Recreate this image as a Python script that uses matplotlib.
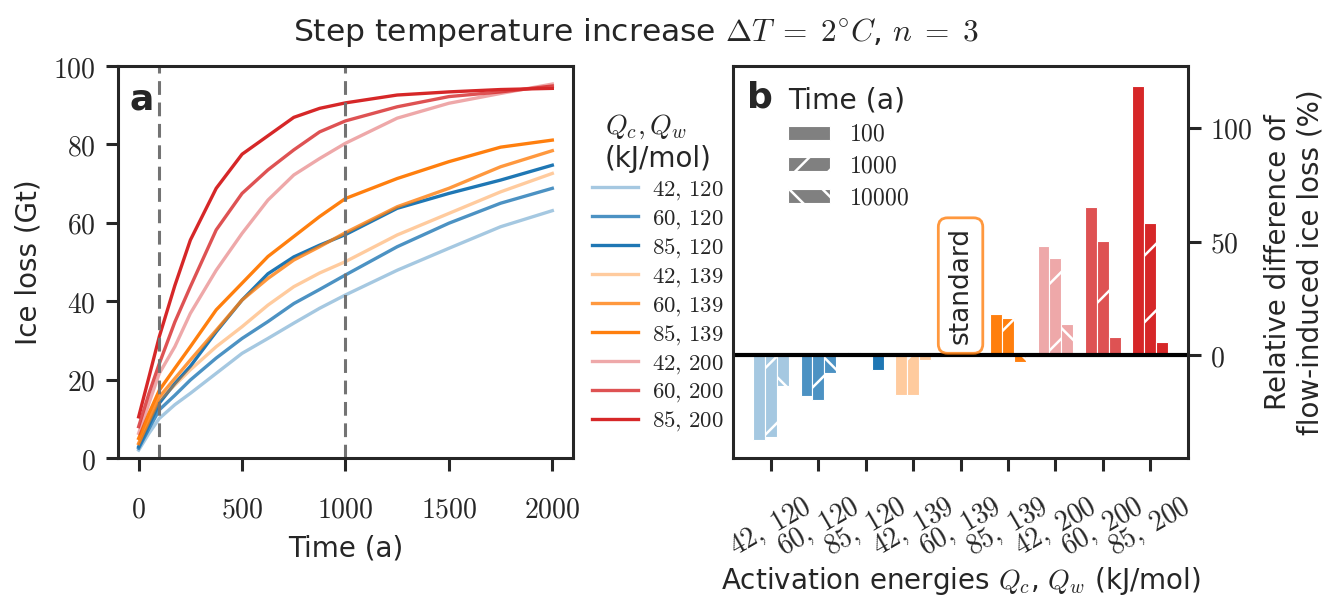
import numpy as np
import matplotlib.pyplot as plt
from matplotlib.patches import Patch
from matplotlib.ticker import FuncFormatter
from matplotlib.colors import to_rgba

plt.rcParams['mathtext.fontset'] = 'cm'
plt.rcParams['font.family'] = 'DejaVu Sans'
plt.rcParams['axes.edgecolor'] = '0.15'
plt.rcParams['axes.linewidth'] = 1.1
plt.rcParams['text.color'] = '0.15'
plt.rcParams['axes.labelcolor'] = '0.15'
plt.rcParams['xtick.color'] = '0.15'
plt.rcParams['ytick.color'] = '0.15'
plt.rcParams['hatch.linewidth'] = 0.9

# time series of ice loss (Gt), panel a
time = [0, 50, 100, 175, 250, 375, 500, 625, 750, 875, 1000, 1250, 1500, 1750, 2000]
loss_42_120 = [2.0, 6.3, 10.1, 13.6, 16.5, 21.6, 26.7, 30.5, 34.4, 38.2, 41.6, 47.9, 53.5, 59.0, 63.1]
loss_60_120 = [2.5, 7.5, 12.3, 16.0, 19.9, 25.5, 30.5, 34.8, 39.4, 43.0, 46.7, 53.9, 59.9, 65.0, 68.8]
loss_85_120 = [2.9, 8.4, 14.0, 19.0, 23.4, 32.2, 40.3, 47.0, 51.3, 54.3, 57.0, 63.7, 67.5, 70.9, 74.7]
loss_42_139 = [3.7, 9.2, 14.8, 18.6, 22.5, 28.4, 33.5, 39.0, 43.7, 47.2, 50.1, 56.9, 62.4, 67.9, 72.6]
loss_60_139 = [3.7, 9.7, 15.6, 20.3, 25.0, 32.6, 40.3, 45.8, 50.5, 53.9, 57.5, 64.1, 68.8, 74.3, 78.4]
loss_85_139 = [5.0, 11.4, 17.3, 22.9, 28.4, 37.8, 44.6, 51.4, 56.5, 61.6, 66.2, 71.3, 75.6, 79.3, 81.1]
loss_42_200 = [6.3, 14.0, 21.6, 28.4, 36.9, 47.9, 57.3, 65.8, 72.2, 76.4, 80.3, 86.7, 90.5, 93.0, 95.4]
loss_60_200 = [8.0, 16.5, 24.1, 34.7, 43.7, 58.2, 67.5, 73.5, 78.6, 83.2, 86.0, 89.6, 92.2, 93.4, 94.9]
loss_85_200 = [10.5, 20.7, 31.0, 44.0, 55.6, 68.8, 77.5, 82.2, 86.9, 89.2, 90.6, 92.6, 93.4, 94.0, 94.3]

qc = [42, 60, 85, 42, 60, 85, 42, 60, 85]
qw = [120, 120, 120, 139, 139, 139, 200, 200, 200]
series = [loss_42_120, loss_60_120, loss_85_120, loss_42_139, loss_60_139,
          loss_85_139, loss_42_200, loss_60_200, loss_85_200]

# relative difference of flow-induced ice loss (%), panel b
rel_100 = [-37.3, -18.0, 1.5, -17.5, 0.0, 18.0, 48.2, 65.0, 118.4]
rel_1000 = [-35.8, -19.4, -0.3, -17.3, 0.0, 16.5, 42.8, 50.3, 58.0]
rel_10000 = [-13.2, -7.7, -6.3, -1.9, 0.0, -2.9, 13.9, 8.0, 5.8]
time_labels = ["100", "1000", "10000"]

tick_labels = [r"$%d,\;%d$" % (a, b) for a, b in zip(qc, qw)]
legend_labels = [r"$%d,\,%d$" % (a, b) for a, b in zip(qc, qw)]

base_colors = ["tab:blue"] * 3 + ["tab:orange"] * 3 + ["tab:red"] * 3
alphas = [0.4, 0.8, 1.0] * 3
colors = [to_rgba(c, a) for c, a in zip(base_colors, alphas)]

math_fmt = FuncFormatter(lambda v, p: r"$%g$" % v)

fig = plt.figure(figsize=(6.635, 2.99), dpi=200)
ax1 = fig.add_axes([0.0889, 0.2341, 0.3429, 0.6555])
ax2 = fig.add_axes([0.5524, 0.2341, 0.3429, 0.6555])

# panel a
for lab, s, c in zip(legend_labels, series, colors):
    ax1.plot(time, s, color=c, lw=1.2, label=lab)
for t in [100, 1000]:
    ax1.axvline(t, color='0.45', ls='--', lw=1.1, dashes=(4.5, 2.5))
ax1.set_xlim(-100, 2100)
ax1.set_ylim(0, 100)
ax1.set_xticks([0, 500, 1000, 1500, 2000])
ax1.set_yticks([0, 20, 40, 60, 80, 100])
ax1.xaxis.set_major_formatter(math_fmt)
ax1.yaxis.set_major_formatter(math_fmt)
ax1.tick_params(labelsize=10, length=4.5, width=1.1)
ax1.tick_params(axis='x', pad=9)
ax1.set_xlabel("Time (a)", fontsize=10)
ax1.set_ylabel("Ice loss (Gt)", fontsize=10)
ax1.text(0.026, 0.957, "a", transform=ax1.transAxes, fontsize=13,
         fontweight='bold', va='top', ha='left')
leg1 = ax1.legend(loc='upper left', bbox_to_anchor=(1.022, 0.906),
                  borderaxespad=0, frameon=False, fontsize=8.2,
                  title="$Q_c, Q_w$\n(kJ/mol)", title_fontsize=10,
                  handlelength=2.0, labelspacing=0.2, handletextpad=0.65)

# panel b
x = np.arange(len(qc))
w = 0.25
for vals, off, hatch in zip([rel_100, rel_1000, rel_10000], [-w, 0, w],
                            [None, '/', '\\']):
    ax2.bar(x + off, vals, width=w, color=colors, edgecolor='white',
            linewidth=0.4, hatch=hatch)
ax2.axhline(0, color='black', lw=1.5)
ax2.set_xlim(-0.8, 8.8)
ax2.set_ylim(-45, 127)
ax2.set_xticks(x)
ax2.set_xticklabels(tick_labels, rotation=30, ha='center')
ax2.set_yticks([0, 50, 100])
ax2.yaxis.set_major_formatter(math_fmt)
ax2.yaxis.tick_right()
ax2.yaxis.set_label_position('right')
ax2.tick_params(axis='y', labelsize=10, length=4.5, width=1.1)
ax2.tick_params(axis='x', labelsize=10, length=4.5, width=1.1, pad=8)
ax2.set_xlabel("Activation energies $Q_c$, $Q_w$ (kJ/mol)", fontsize=10,
               labelpad=1)
ax2.set_ylabel("Relative difference of\nflow-induced ice loss (%)", fontsize=10)
ax2.text(0.031, 0.964, "b", transform=ax2.transAxes, fontsize=13,
         fontweight='bold', va='top', ha='left')
ax2.text(4, 5, "standard", rotation=90, ha='center', va='bottom', fontsize=9.5,
         bbox=dict(boxstyle='round,pad=0.35', facecolor='white',
                   edgecolor=to_rgba('tab:orange', 0.8), lw=1.0))
handles = [Patch(facecolor='0.5', edgecolor='white', hatch=h, lw=0.4)
           for h in [None, '//', '\\\\']]
leg2 = ax2.legend(handles, [r"$%s$" % t for t in time_labels], loc='upper left',
                  bbox_to_anchor=(0.101, 0.972), borderaxespad=0,
                  frameon=False, fontsize=8.5, title="Time (a)",
                  title_fontsize=10.2, alignment='left', handlelength=1.75,
                  handleheight=0.55, labelspacing=0.32, handletextpad=0.8)

fig.text(0.479, 0.946,
         r"Step temperature increase $\Delta T\;=\;2^{\circ}C$, $n\;=\;3$",
         ha='center', va='center', fontsize=11.3)

fig.savefig("out.png", dpi=200)
